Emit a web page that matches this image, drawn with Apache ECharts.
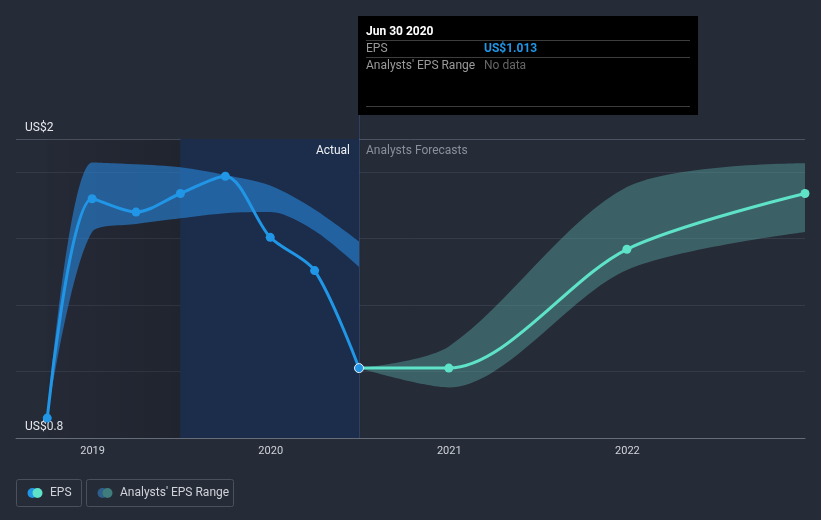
<!DOCTYPE html>
<html><head><meta charset="utf-8">
<script src="https://cdn.jsdelivr.net/npm/echarts@6/dist/echarts.min.js"></script>
<style>html,body{margin:0;padding:0;background:#262b38}#c{width:821px;height:520px}</style>
</head><body><div id="c"></div>
<script>
// ---- data ----
const actualDates = ['2018-09-30','2018-12-31','2019-03-31','2019-06-30','2019-09-30','2019-12-31','2020-03-31','2020-06-30'];
const actualEps = [0.825, 1.65, 1.60, 1.67, 1.735, 1.505, 1.38, 1.013];
const actualRangeLow = [0.825, 1.525, 1.555, 1.577, 1.596, 1.60, 1.53, 1.394];
const actualRangeHigh = [0.825, 1.787, 1.78, 1.769, 1.74, 1.70, 1.61, 1.49];
const forecastDates = ['2020-06-30','2020-12-31','2021-12-31','2022-12-31'];
const forecastEps = [1.013, 1.013, 1.46, 1.67];
const forecastLow = [1.013, 0.94, 1.382, 1.525];
const forecastHigh = [1.013, 1.094, 1.694, 1.784];
const yTickLabels = ['US$0.8', 'US$2'];
const xRange = ['2018-07-28', '2022-12-31'];
const yRange = [0.75, 1.875];
const tooltipDate = 'Jun 30 2020';
const tooltipEps = 'US$1.013';
const splitDate = '2020-06-30';
const pastYearStart = '2019-06-30';

const pair = (d, v) => d.map((x, i) => [x, v[i]]);
const diff = (hi, lo) => hi.map((h, i) => +(h - lo[i]).toFixed(4));
const FONT = 'Roboto, "Noto Sans", sans-serif';

const chart = echarts.init(document.getElementById('c'));
const SM = 0.3;
chart.setOption({
  backgroundColor: '#262b38',
  animation: false,
  grid: { left: 16, right: 16, top: 139, bottom: 82 },
  xAxis: {
    type: 'time', min: xRange[0], max: xRange[1],
    splitNumber: 4,
    axisLine: { lineStyle: { color: '#666c78', width: 1 } },
    axisTick: { show: false },
    splitLine: { show: false },
    axisLabel: {
      color: '#d0d3d8', fontSize: 11, fontFamily: FONT, margin: 8,
      showMinLabel: false, showMaxLabel: false,
      formatter: v => { const d = new Date(v); return (d.getMonth() === 0 && d.getDate() === 1) ? String(d.getFullYear()) : ''; }
    }
  },
  yAxis: {
    type: 'value', min: yRange[0], max: yRange[1], interval: 0.25,
    axisLine: { show: false }, axisTick: { show: false },
    splitLine: { lineStyle: { color: ['#666c78', '#353b48', '#353b48', '#353b48', '#353b48', '#4d5362'], width: 1 } },
    axisLabel: {
      inside: true, margin: 9, verticalAlign: 'bottom', padding: [0, 0, 5, 0],
      color: '#e6e8eb', fontSize: 12, fontFamily: FONT,
      formatter: v => Math.abs(v - yRange[0]) < 1e-9 ? yTickLabels[0] : (Math.abs(v - yRange[1]) < 1e-9 ? yTickLabels[1] : '')
    }
  },
  series: [
    {
      type: 'line', name: 'actualLow', stack: 'actual', data: pair(actualDates, actualRangeLow),
      smooth: SM, symbol: 'none', lineStyle: { opacity: 0 }, silent: true, z: 1,
      markArea: {
        silent: true,
        data: [
          [{ xAxis: actualDates[0], itemStyle: { color: { type: 'linear', x: 0, y: 0, x2: 1, y2: 0, colorStops: [{ offset: 0, color: 'rgba(0,0,0,0.04)' }, { offset: 1, color: 'rgba(0,0,0,0.16)' }] } } }, { xAxis: pastYearStart }],
          [{ xAxis: pastYearStart, itemStyle: { color: '#1b2d4b' } }, { xAxis: splitDate }]
        ]
      }
    },
    {
      type: 'line', name: 'actualBand', stack: 'actual', data: pair(actualDates, diff(actualRangeHigh, actualRangeLow)),
      smooth: SM, symbol: 'none', lineStyle: { opacity: 0 }, silent: true, z: 2,
      areaStyle: { color: 'rgba(40,130,215,0.62)', opacity: 1 }
    },
    {
      type: 'line', name: 'forecastLow', stack: 'forecast', data: pair(forecastDates, forecastLow),
      smooth: SM, symbol: 'none', lineStyle: { opacity: 0 }, silent: true, z: 1
    },
    {
      type: 'line', name: 'forecastBand', stack: 'forecast', data: pair(forecastDates, diff(forecastHigh, forecastLow)),
      smooth: SM, symbol: 'none', lineStyle: { opacity: 0 }, silent: true, z: 2,
      areaStyle: { color: 'rgba(88,172,166,0.42)', opacity: 1 }
    },
    {
      type: 'line', name: 'Forecast EPS', data: pair(forecastDates, forecastEps),
      smooth: SM, symbol: 'circle', symbolSize: 9, showSymbol: true,
      lineStyle: { color: '#5fe3c8', width: 3 }, itemStyle: { color: '#5fe3c8' }, z: 3
    },
    {
      type: 'line', name: 'EPS', data: pair(actualDates, actualEps).map((p, i, a) => i === a.length - 1 ? { value: p, itemStyle: { borderColor: '#e8eef5', borderWidth: 1 } } : p),
      smooth: SM, symbol: 'circle', symbolSize: 9,
      lineStyle: { color: '#2196e6', width: 3 }, itemStyle: { color: '#2196e6' }, z: 4
    }
  ]
});

const px = chart.convertToPixel({ xAxisIndex: 0 }, +new Date(splitDate));
const yTop = chart.convertToPixel({ yAxisIndex: 0 }, yRange[1]);
const yBot = chart.convertToPixel({ yAxisIndex: 0 }, yRange[0]);
const tipX = px - 1, tipY = 16, tipW = 340, tipH = 99;
chart.setOption({
  graphic: [
    { type: 'line', silent: true, z: 5, shape: { x1: px + 0.5, y1: tipY + tipH, x2: px + 0.5, y2: yBot }, style: { stroke: 'rgba(70,120,190,0.3)', lineWidth: 1 } },
    { type: 'text', silent: true, z: 6, x: px - 9, y: yTop + 12, style: { text: 'Actual', fill: '#eef0f3', font: '12px ' + FONT, textAlign: 'right', textVerticalAlign: 'middle' } },
    { type: 'text', silent: true, z: 6, x: px + 7, y: yTop + 12, style: { text: 'Analysts Forecasts', fill: '#8a909b', font: '12px ' + FONT, textAlign: 'left', textVerticalAlign: 'middle' } },
    // tooltip box
    { type: 'rect', silent: true, z: 10, shape: { x: tipX, y: tipY, width: tipW, height: tipH }, style: { fill: '#000' } },
    { type: 'text', silent: true, z: 11, x: tipX + 8, y: tipY + 16, style: { text: tooltipDate, fill: '#fff', font: 'bold 12px ' + FONT, textVerticalAlign: 'middle' } },
    { type: 'line', silent: true, z: 11, shape: { x1: tipX + 8, y1: tipY + 24.5, x2: tipX + tipW - 8, y2: tipY + 24.5 }, style: { stroke: '#3d3d3d', lineWidth: 1 } },
    { type: 'text', silent: true, z: 11, x: tipX + 8, y: tipY + 33, style: { text: 'EPS', fill: '#9a9a9a', font: '12px ' + FONT, textVerticalAlign: 'middle' } },
    { type: 'text', silent: true, z: 11, x: tipX + 126, y: tipY + 33, style: { text: tooltipEps, fill: '#2196e6', font: 'bold 12px ' + FONT, textVerticalAlign: 'middle' } },
    { type: 'line', silent: true, z: 11, shape: { x1: tipX + 8, y1: tipY + 41.5, x2: tipX + tipW - 8, y2: tipY + 41.5 }, style: { stroke: '#3d3d3d', lineWidth: 1 } },
    { type: 'text', silent: true, z: 11, x: tipX + 8, y: tipY + 50, style: { text: "Analysts' EPS Range", fill: '#9a9a9a', font: '12px ' + FONT, textVerticalAlign: 'middle' } },
    { type: 'text', silent: true, z: 11, x: tipX + 126, y: tipY + 50, style: { text: 'No data', fill: '#666', font: '12px ' + FONT, textVerticalAlign: 'middle' } },
    { type: 'line', silent: true, z: 11, shape: { x1: tipX + 8, y1: tipY + 90.5, x2: tipX + tipW - 8, y2: tipY + 90.5 }, style: { stroke: '#3d3d3d', lineWidth: 1 } },
    // legend
    { type: 'rect', silent: true, shape: { x: 16.5, y: 479.5, width: 65, height: 27, r: 2 }, style: { fill: 'none', stroke: '#4a505d', lineWidth: 1 } },
    { type: 'circle', silent: true, shape: { cx: 32.5, cy: 493, r: 5 }, style: { fill: '#2196e6' } },
    { type: 'circle', silent: true, shape: { cx: 37.5, cy: 493, r: 5 }, style: { fill: '#5fe3c8' } },
    { type: 'text', silent: true, x: 50, y: 493, style: { text: 'EPS', fill: '#d0d3d8', font: '12px ' + FONT, textVerticalAlign: 'middle' } },
    { type: 'rect', silent: true, shape: { x: 86.5, y: 479.5, width: 147, height: 27, r: 2 }, style: { fill: 'none', stroke: '#4a505d', lineWidth: 1 } },
    { type: 'circle', silent: true, shape: { cx: 102.5, cy: 493, r: 5 }, style: { fill: '#2e5f8c' } },
    { type: 'circle', silent: true, shape: { cx: 107.5, cy: 493, r: 5 }, style: { fill: '#3f7d7c' } },
    { type: 'text', silent: true, x: 120, y: 493, style: { text: "Analysts' EPS Range", fill: '#d0d3d8', font: '12px ' + FONT, textVerticalAlign: 'middle' } }
  ]
});
</script></body></html>
